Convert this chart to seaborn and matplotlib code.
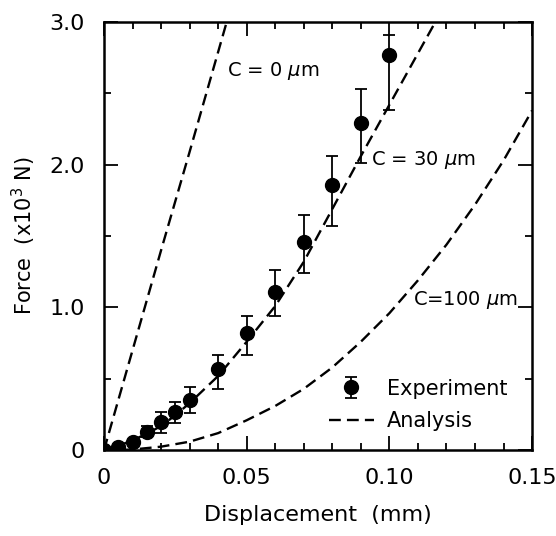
import numpy as np
import pandas as pd
import matplotlib
matplotlib.use("Agg")
import matplotlib.pyplot as plt
import seaborn as sns
from matplotlib.lines import Line2D

# Datos experimentales (desplazamiento en mm, fuerza en 10^3 N)
exp_disp = [0, 0.005, 0.01, 0.015, 0.02, 0.025, 0.03, 0.04, 0.05, 0.06, 0.07, 0.08, 0.09, 0.10]
exp_force = [0, 0.025, 0.06, 0.13, 0.20, 0.27, 0.35, 0.57, 0.82, 1.11, 1.46, 1.86, 2.29, 2.77]
err_low = [0, 0, 0, 0.04, 0.08, 0.08, 0.09, 0.14, 0.15, 0.17, 0.22, 0.29, 0.28, 0.39]
err_high = [0, 0, 0, 0.04, 0.07, 0.07, 0.09, 0.10, 0.12, 0.15, 0.19, 0.20, 0.24, 0.14]

# Curvas de analisis
c0_disp = [0, 0.01, 0.02, 0.03, 0.04, 0.045]
c0_force = [0, 0.70, 1.40, 2.09, 2.79, 3.14]

c30_disp = [0, 0.005, 0.01, 0.015, 0.02, 0.025, 0.03, 0.04, 0.05, 0.06, 0.07, 0.08, 0.09, 0.10, 0.11, 0.12]
c30_force = [0, 0.03, 0.07, 0.115, 0.17, 0.245, 0.33, 0.52, 0.76, 1.01, 1.32, 1.69, 2.06, 2.42, 2.78, 3.14]

c100_disp = [0, 0.01, 0.02, 0.03, 0.04, 0.05, 0.06, 0.07, 0.08, 0.09, 0.10, 0.11, 0.12, 0.13, 0.14, 0.15]
c100_force = [0, 0.005, 0.025, 0.06, 0.12, 0.21, 0.31, 0.43, 0.58, 0.76, 0.96, 1.19, 1.44, 1.72, 2.03, 2.38]

curve_labels = ["C = 0 $\\mu$m", "C = 30 $\\mu$m", "C=100 $\\mu$m"]
label_pos = [(0.0432, 2.66), (0.0937, 2.03), (0.1083, 1.05)]

x_ticks = [0, 0.05, 0.10, 0.15]
x_ticklabels = ["0", "0.05", "0.10", "0.15"]
y_ticks = [0, 1.0, 2.0, 3.0]
y_ticklabels = ["0", "1.0", "2.0", "3.0"]

sns.set_style("ticks")
plt.rcParams['font.family'] = ['DejaVu Sans']
plt.rcParams.update({'text.color': 'black', 'axes.labelcolor': 'black',
                     'xtick.color': 'black', 'ytick.color': 'black',
                     'axes.edgecolor': 'black'})

analysis = pd.concat([
    pd.DataFrame({'disp': c0_disp, 'force': c0_force, 'caso': 'C0'}),
    pd.DataFrame({'disp': c30_disp, 'force': c30_force, 'caso': 'C30'}),
    pd.DataFrame({'disp': c100_disp, 'force': c100_force, 'caso': 'C100'}),
])

fig, ax = plt.subplots(figsize=(5.56, 5.36), dpi=100)
fig.subplots_adjust(left=0.187, right=0.957, top=0.959, bottom=0.160)

dash = (0, (5, 2.6))
for caso, grp in analysis.groupby('caso', sort=False):
    sns.lineplot(data=grp, x='disp', y='force', ax=ax, color='black',
                 linewidth=1.7, linestyle=dash, sort=False, estimator=None)

eb = ax.errorbar(exp_disp, exp_force, yerr=[err_low, err_high], fmt='o',
                 color='black', ms=10, capsize=4, elinewidth=1.3, capthick=1.3, zorder=5)

for txt, (tx, ty) in zip(curve_labels, label_pos):
    ax.text(tx, ty, txt, fontsize=14, ha='left', va='center')

ax.set_xlim(0, 0.15)
ax.set_ylim(0, 3.0)
ax.set_xticks(x_ticks)
ax.set_xticklabels(x_ticklabels)
ax.set_yticks(y_ticks)
ax.set_yticklabels(y_ticklabels)
ax.set_xticks(np.arange(0, 0.151, 0.01), minor=True)
ax.set_yticks(np.arange(0, 3.01, 0.5), minor=True)
ax.tick_params(which='both', direction='in', top=True, right=True, width=1.3, labelsize=16)
ax.tick_params(which='major', length=10)
ax.tick_params(which='minor', length=5)
ax.tick_params(axis='x', which='major', pad=13)
ax.tick_params(axis='y', which='major', pad=14)

for sp in ax.spines.values():
    sp.set_linewidth(1.8)
    sp.set_color('black')

ax.set_xlabel("Displacement  (mm)", fontsize=16, labelpad=12)
ax.set_ylabel("Force  (x10$^3$ N)", fontsize=15, labelpad=8)

handles = [eb, Line2D([], [], color='black', linewidth=1.7, linestyle=dash)]
ax.legend(handles, ["Experiment", "Analysis"], loc='center left',
          bbox_to_anchor=(0.505, 0.106), frameon=False, fontsize=15,
          handlelength=2.2, handletextpad=0.6, labelspacing=0.6, borderaxespad=0)

plt.savefig("out.png", dpi=100)
